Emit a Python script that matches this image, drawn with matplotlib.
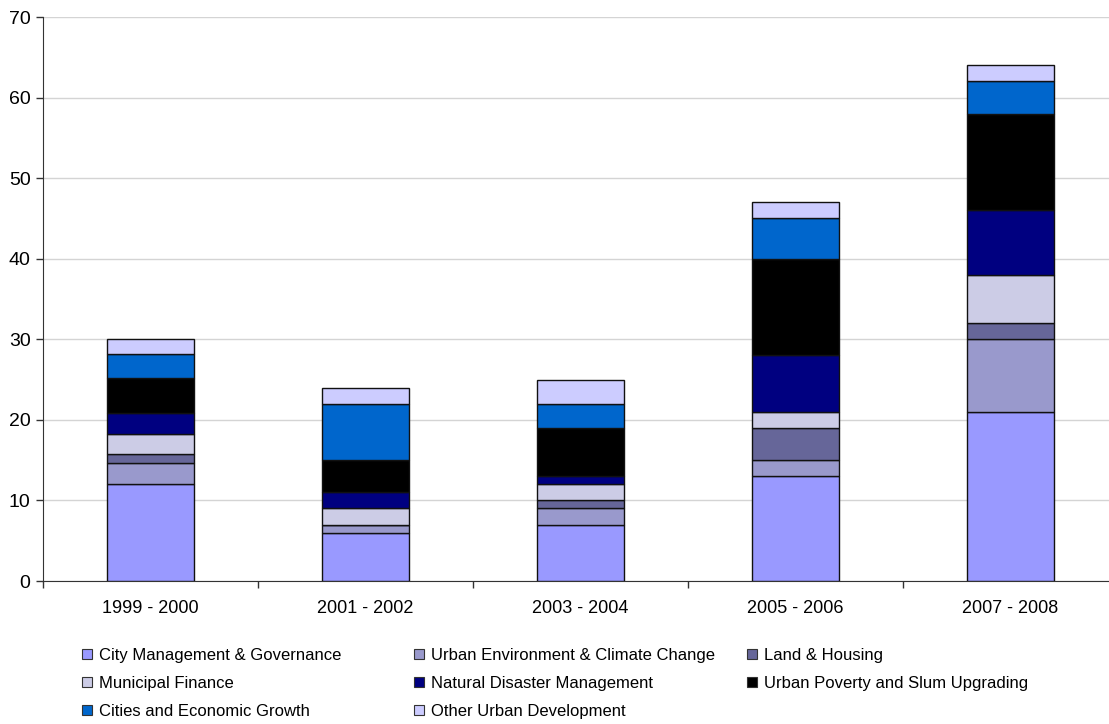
import matplotlib
matplotlib.use("Agg")
import matplotlib.pyplot as plt
import numpy as np
from matplotlib.patches import Patch

plt.rcParams['font.family'] = ['Liberation Sans', 'DejaVu Sans']

categories = ["1999 - 2000", "2001 - 2002", "2003 - 2004", "2005 - 2006", "2007 - 2008"]
series_names = [
    "City Management & Governance",
    "Urban Environment & Climate Change",
    "Land & Housing",
    "Municipal Finance",
    "Natural Disaster Management",
    "Urban Poverty and Slum Upgrading",
    "Cities and Economic Growth",
    "Other Urban Development",
]
city_mgmt = [12, 6, 7, 13, 21]
urban_env = [2.7, 1, 2, 2, 9]
land_housing = [1.1, 0, 1, 4, 2]
municipal_fin = [2.5, 2, 2, 2, 6]
natural_disaster = [2.6, 2, 1, 7, 8]
urban_poverty = [4.3, 4, 6, 12, 12]
cities_growth = [3.0, 7, 3, 5, 4]
other_urban = [1.8, 2, 3, 2, 2]

series = [city_mgmt, urban_env, land_housing, municipal_fin,
          natural_disaster, urban_poverty, cities_growth, other_urban]
colors = ["#9999FF", "#9999CC", "#666699", "#CCCCE6",
          "#000080", "#000000", "#0066CC", "#CCCCFF"]

fig = plt.figure(figsize=(11.09, 7.24), dpi=100)
W, H = 1109, 724
ax = fig.add_axes([43 / W, 1 - 581 / H, (1109 - 43) / W, (581 - 17) / H])

x = np.arange(len(categories))
bottom = np.zeros(len(categories))
for vals, c in zip(series, colors):
    v = np.array(vals, dtype=float)
    ax.bar(x, v, bottom=bottom, width=0.405, color=c, edgecolor="#111111", linewidth=1.0, zorder=3)
    bottom += v

ax.set_yticks(np.arange(0, 71, 10))
ax.yaxis.grid(True, color="#d4d4d4", linewidth=1.0, zorder=0)
ax.set_axisbelow(True)

ax.set_xticks(x)
ax.set_xticklabels(categories, fontsize=13)
ax.tick_params(axis='x', which='major', length=0, pad=14)
ax.set_xticks(np.arange(-0.5, 4.0, 1.0), minor=True)
ax.tick_params(axis='x', which='minor', length=5, width=1, color="#333333", direction='out')
ax.tick_params(axis='y', labelsize=14, length=5, width=1, color="#333333", direction='out', pad=4)

ax.set_ylim(0, 70)
ax.set_xlim(-0.5, -0.5 + (1109 - 43) / 215)

for s in ["top", "right"]:
    ax.spines[s].set_visible(False)
ax.spines["left"].set_color("#333333")
ax.spines["bottom"].set_color("#333333")

# legend: three columns placed manually
col_x = [82, 414, 747]
col_items = [[0, 3, 6], [1, 4, 7], [2, 5]]
for cx, items in zip(col_x, col_items):
    handles = [Patch(facecolor=colors[i], edgecolor="#333333", linewidth=0.8, label=series_names[i]) for i in items]
    fig.legend(handles=handles, loc="upper left", bbox_to_anchor=(cx / W, 1 - 648 / H),
               frameon=False, fontsize=12, handlelength=0.6, handleheight=0.6,
               handletextpad=0.4, labelspacing=0.78, borderaxespad=0, borderpad=0)

fig.savefig("out.png", dpi=100)
